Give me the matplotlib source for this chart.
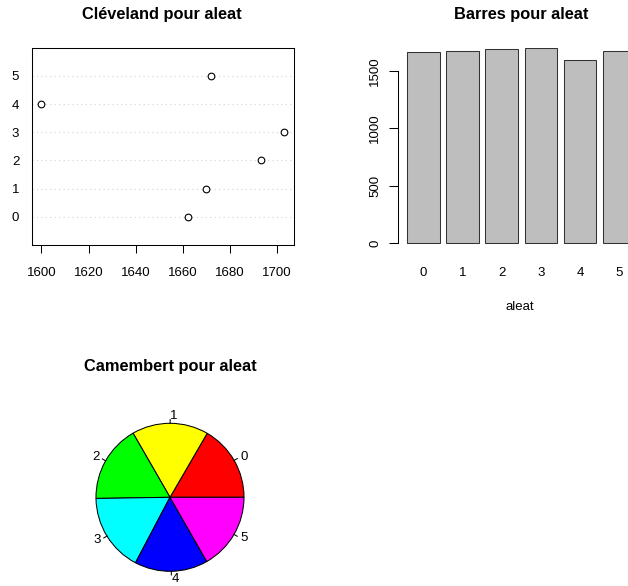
import numpy as np
import matplotlib
matplotlib.use("Agg")
import matplotlib.pyplot as plt

categories = ["0", "1", "2", "3", "4", "5"]
counts = [1662, 1670, 1693, 1703, 1600, 1672]
bar_yticks = [0, 500, 1000, 1500]
dot_xticks = [1600, 1620, 1640, 1660, 1680, 1700]
pie_colors = ["#FF0000", "#FFFF00", "#00FF00", "#00FFFF", "#0000FF", "#FF00FF"]

W, H = 628, 586
plt.rcParams['font.family'] = ['Liberation Sans', 'DejaVu Sans']
fig = plt.figure(figsize=(W / 100, H / 100), dpi=100)

def rect(x0, y0, x1, y1):
    return [x0 / W, 1 - y1 / H, (x1 - x0) / W, (y1 - y0) / H]

FS = 9.5
TFS = 11.8
LW = 0.75

# ---- Cleveland dot chart ----
ax1 = fig.add_axes(rect(31.7, 47.7, 294, 245))
ypos = np.arange(len(categories))
for y in ypos:
    ax1.axhline(y, color="#D3D3D3", linestyle=(0, (1, 3)), linewidth=0.8, zorder=1)
ax1.plot(counts, ypos, linestyle="none", marker="o", markersize=4.8,
         markerfacecolor="white", markeredgecolor="black", markeredgewidth=0.8, zorder=3)
lo, hi = min(counts), max(counts)
pad = (hi - lo) * 0.04
ax1.set_xlim(lo - pad, hi + pad)
ax1.set_ylim(-1, len(categories))
ax1.set_xticks(dot_xticks)
ax1.set_xticklabels([str(t) for t in dot_xticks], fontsize=FS)
ax1.set_yticks(ypos)
ax1.set_yticklabels(categories, fontsize=FS)
ax1.tick_params(axis="y", length=0, pad=9)
ax1.tick_params(axis="x", length=6, width=LW, pad=9.5)
for s in ax1.spines.values():
    s.set_linewidth(LW)
fig.text(162 / W, 1 - 15 / H, "Cléveland pour aleat", fontsize=TFS, fontweight="bold",
         ha="center", va="center")

# ---- Bar chart ----
ax2 = fig.add_axes(rect(397.7, 47.7, 644.8, 245))
xl = 0.2 + 1.2 * np.arange(len(categories))
ax2.bar(xl, counts, width=1.0, align="edge", color="#BEBEBE", edgecolor="#333333", linewidth=LW)
x0, x1 = 0.2, xl[-1] + 1.0
ax2.set_xlim(x0 - 0.04 * (x1 - x0), x1 + 0.04 * (x1 - x0))
ax2.set_ylim(-0.01 * max(counts), max(counts))
for s in ["top", "right", "bottom"]:
    ax2.spines[s].set_visible(False)
ax2.spines["left"].set_bounds(0, 1500)
ax2.spines["left"].set_linewidth(LW)
ax2.set_yticks(bar_yticks)
ax2.set_yticklabels([str(t) for t in bar_yticks], fontsize=FS, rotation=90, va="center")
ax2.tick_params(axis="y", length=6.3, width=LW, pad=5.5)
ax2.set_xticks(xl + 0.5)
ax2.set_xticklabels(categories, fontsize=FS)
ax2.tick_params(axis="x", length=0, pad=15.8)
fig.text(520 / W, 1 - 310 / H, "aleat", fontsize=FS, ha="center", va="baseline")
fig.text(521.5 / W, 1 - 15 / H, "Barres pour aleat", fontsize=TFS, fontweight="bold",
         ha="center", va="center")

# ---- Pie chart ----
cx, cy, r = 170, 497.3, 74
ext = 1.3
ax3 = fig.add_axes(rect(cx - ext * r, cy - ext * r, cx + ext * r, cy + ext * r))
ax3.pie(counts, colors=pie_colors, startangle=0, counterclock=True, radius=1,
        wedgeprops=dict(edgecolor="black", linewidth=LW))
ax3.set_xlim(-ext, ext)
ax3.set_ylim(-ext, ext)
ax3.set_aspect("equal")
ax3.axis("off")
frac = np.cumsum([0] + counts) / sum(counts)
for i, lab in enumerate(categories):
    a = 2 * np.pi * (frac[i] + frac[i + 1]) / 2
    c, s = np.cos(a), np.sin(a)
    ax3.plot([c, 1.05 * c], [s, 1.05 * s], color="black", linewidth=LW)
    ax3.text(1.1 * c, 1.1 * s, lab, fontsize=FS, ha="left" if c >= 0 else "right", va="center")
fig.text(170 / W, 1 - 366 / H, "Camembert pour aleat", fontsize=TFS, fontweight="bold",
         ha="center", va="center")

fig.savefig("out.png", dpi=100)
